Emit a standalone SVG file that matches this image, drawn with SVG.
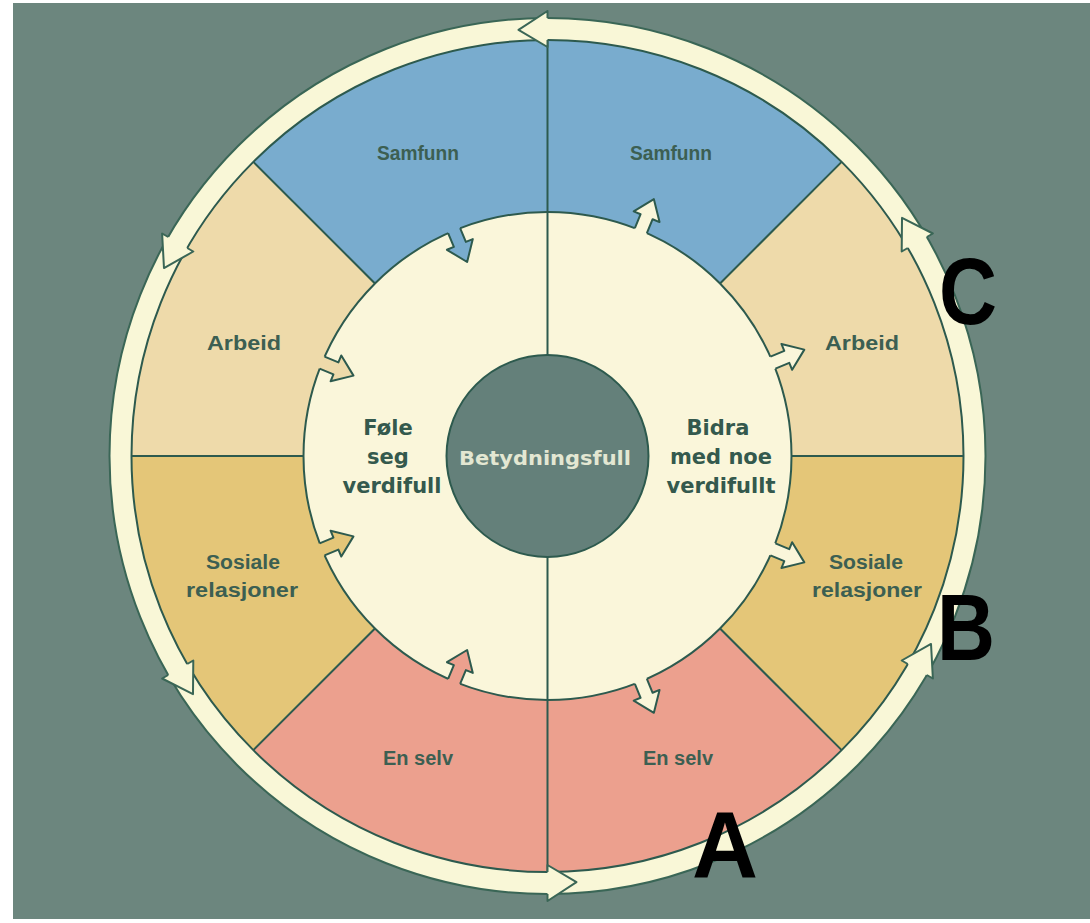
<svg xmlns="http://www.w3.org/2000/svg" xmlns:xlink="http://www.w3.org/1999/xlink" width="1090" height="923" viewBox="0 0 1090 923">
<style>
.ln{stroke:#2d5a4e;stroke-width:2;fill:none}
.lbl{font-family:"Liberation Sans",Arial,sans-serif;font-weight:bold;font-size:20px;fill:#3c5f52;text-anchor:middle}
.mid{font-family:"DejaVu Sans",Verdana,sans-serif;font-weight:bold;font-size:21px;fill:#34594d;text-anchor:middle}
.big{font-family:"Liberation Sans",Arial,sans-serif;font-weight:bold;font-size:94px;fill:#000;text-anchor:middle}
</style>
<defs>
<g id="ringArrow">
<polygon points="547.5,901 576.5,882.1 547.5,865" fill="#f9f7d7"/>
<path d="M547.5,894 L547.5,901 L576.5,882.1 L547.5,865 L547.5,872" fill="none" stroke="#3a6656" stroke-width="2" stroke-linejoin="round"/>
</g>
<g id="outArrow">
<polygon points="788.5,449.5 806.5,449.5 806.5,442 825.5,456 806.5,470 806.5,462.5 788.5,462.5" fill="#faf6da"/>
<path d="M791.5,449.5 L806.5,449.5 L806.5,442 L825.5,456 L806.5,470 L806.5,462.5 L791.5,462.5" class="ln" stroke-linejoin="round"/>
</g>
<polygon id="inFill" points="300.5,449.5 318.5,449.5 318.5,442 337.5,456 318.5,470 318.5,462.5 300.5,462.5"/>
<path id="inStroke" d="M303.5,449.5 L318.5,449.5 L318.5,442 L337.5,456 L318.5,470 L318.5,462.5 L303.5,462.5" class="ln" stroke-linejoin="round"/>
</defs>
<rect x="0" y="0" width="1090" height="923" fill="#ffffff"/>
<rect x="13" y="3" width="1077" height="916" fill="#6c867e"/>

<g id="ring">
<circle cx="547.5" cy="456" r="427" fill="none" stroke="#f9f7d7" stroke-width="22"/>
<circle cx="547.5" cy="456" r="438" fill="none" stroke="#3a6656" stroke-width="2"/>
</g>

<g id="sectors">
<g id="samfunn-venstre"><path d="M547.5,456 L253.34,161.84 A416,416 0 0 1 547.5,40 Z" fill="#79acce"/><text class="lbl" x="418" y="160" textLength="82" lengthAdjust="spacingAndGlyphs">Samfunn</text></g>
<g id="samfunn-hoyre"><path d="M547.5,456 L547.5,40 A416,416 0 0 1 841.66,161.84 Z" fill="#79acce"/><text class="lbl" x="671" y="160" textLength="82" lengthAdjust="spacingAndGlyphs">Samfunn</text></g>
<g id="arbeid-venstre"><path d="M547.5,456 L131.5,456 A416,416 0 0 1 253.34,161.84 Z" fill="#eedaaa"/><text class="lbl" x="244" y="350" textLength="74" lengthAdjust="spacingAndGlyphs">Arbeid</text></g>
<g id="arbeid-hoyre"><path d="M547.5,456 L841.66,161.84 A416,416 0 0 1 963.5,456 Z" fill="#eedaaa"/><text class="lbl" x="862" y="350" textLength="74" lengthAdjust="spacingAndGlyphs">Arbeid</text></g>
<g id="sosiale-hoyre"><path d="M547.5,456 L963.5,456 A416,416 0 0 1 841.66,750.16 Z" fill="#e4c678"/><text class="lbl" x="866" y="569" textLength="74" lengthAdjust="spacingAndGlyphs">Sosiale</text><text class="lbl" x="867" y="597" textLength="110" lengthAdjust="spacingAndGlyphs">relasjoner</text></g>
<g id="enselv"><path d="M547.5,456 L841.66,750.16 A416,416 0 0 1 253.34,750.16 Z" fill="#eca08e"/><text class="lbl" x="418" y="765" textLength="70" lengthAdjust="spacingAndGlyphs">En selv</text><text class="lbl" x="678" y="765" textLength="70" lengthAdjust="spacingAndGlyphs">En selv</text></g>
<g id="sosiale-venstre"><path d="M547.5,456 L253.34,750.16 A416,416 0 0 1 131.5,456 Z" fill="#e4c678"/><text class="lbl" x="243" y="569" textLength="74" lengthAdjust="spacingAndGlyphs">Sosiale</text><text class="lbl" x="242" y="597" textLength="112" lengthAdjust="spacingAndGlyphs">relasjoner</text></g>
<circle cx="547.5" cy="456" r="416" class="ln"/>
</g>

<g id="connectors">
<line class="ln" x1="720.03" y1="628.53" x2="841.66" y2="750.16"/>
<line class="ln" x1="374.97" y1="628.53" x2="253.34" y2="750.16"/>
<line class="ln" x1="374.97" y1="283.47" x2="253.34" y2="161.84"/>
<line class="ln" x1="720.03" y1="283.47" x2="841.66" y2="161.84"/>
<line class="ln" x1="791.5" y1="456" x2="963.5" y2="456"/>
<line class="ln" x1="303.5" y1="456" x2="131.5" y2="456"/>
</g>

<g id="inner">
<circle cx="547.5" cy="456" r="244" fill="#faf6da" stroke="#2d5a4e" stroke-width="2"/>
<line class="ln" x1="547.5" y1="40" x2="547.5" y2="872"/>
<use xlink:href="#outArrow" href="#outArrow" transform="rotate(-67.5 547.5 456)"/>
<use xlink:href="#outArrow" href="#outArrow" transform="rotate(-22.5 547.5 456)"/>
<use xlink:href="#outArrow" href="#outArrow" transform="rotate(22.5 547.5 456)"/>
<use xlink:href="#outArrow" href="#outArrow" transform="rotate(67.5 547.5 456)"/>
<use xlink:href="#inFill" href="#inFill" fill="#79acce" transform="rotate(67.5 547.5 456)"/>
<use xlink:href="#inStroke" href="#inStroke" transform="rotate(67.5 547.5 456)"/>
<use xlink:href="#inFill" href="#inFill" fill="#eedaaa" transform="rotate(22.5 547.5 456)"/>
<use xlink:href="#inStroke" href="#inStroke" transform="rotate(22.5 547.5 456)"/>
<use xlink:href="#inFill" href="#inFill" fill="#e4c678" transform="rotate(-22.5 547.5 456)"/>
<use xlink:href="#inStroke" href="#inStroke" transform="rotate(-22.5 547.5 456)"/>
<use xlink:href="#inFill" href="#inFill" fill="#eca08e" transform="rotate(-67.5 547.5 456)"/>
<use xlink:href="#inStroke" href="#inStroke" transform="rotate(-67.5 547.5 456)"/>
</g>

<g id="fole">
<text class="mid" x="388" y="435">Føle</text>
<text class="mid" x="388" y="464">seg</text>
<text class="mid" x="392" y="493">verdifull</text>
</g>
<g id="bidra">
<text class="mid" x="718" y="435">Bidra</text>
<text class="mid" x="721" y="464">med noe</text>
<text class="mid" x="721" y="493">verdifullt</text>
</g>
<g id="betydningsfull">
<circle cx="547.5" cy="456" r="101" fill="#64807a" stroke="#2d5a4e" stroke-width="2"/>
<text x="545" y="465" font-family="DejaVu Sans, Verdana, sans-serif" font-weight="600" font-size="20" fill="#e3e7d2" text-anchor="middle" textLength="172" lengthAdjust="spacingAndGlyphs">Betydningsfull</text>
</g>

<g id="ring-arrows">
<use xlink:href="#ringArrow" href="#ringArrow"/>
<use xlink:href="#ringArrow" href="#ringArrow" transform="rotate(60 547.5 456)"/>
<use xlink:href="#ringArrow" href="#ringArrow" transform="rotate(120 547.5 456)"/>
<use xlink:href="#ringArrow" href="#ringArrow" transform="rotate(180 547.5 456)"/>
<use xlink:href="#ringArrow" href="#ringArrow" transform="rotate(240 547.5 456)"/>
<use xlink:href="#ringArrow" href="#ringArrow" transform="rotate(300 547.5 456)"/>
</g>

<g id="letters">
<text class="big" x="968" y="324" textLength="58" lengthAdjust="spacingAndGlyphs">C</text>
<text class="big" x="966" y="660" textLength="58" lengthAdjust="spacingAndGlyphs">B</text>
<text class="big" x="725" y="878" textLength="66" lengthAdjust="spacingAndGlyphs">A</text>
</g>
</svg>
